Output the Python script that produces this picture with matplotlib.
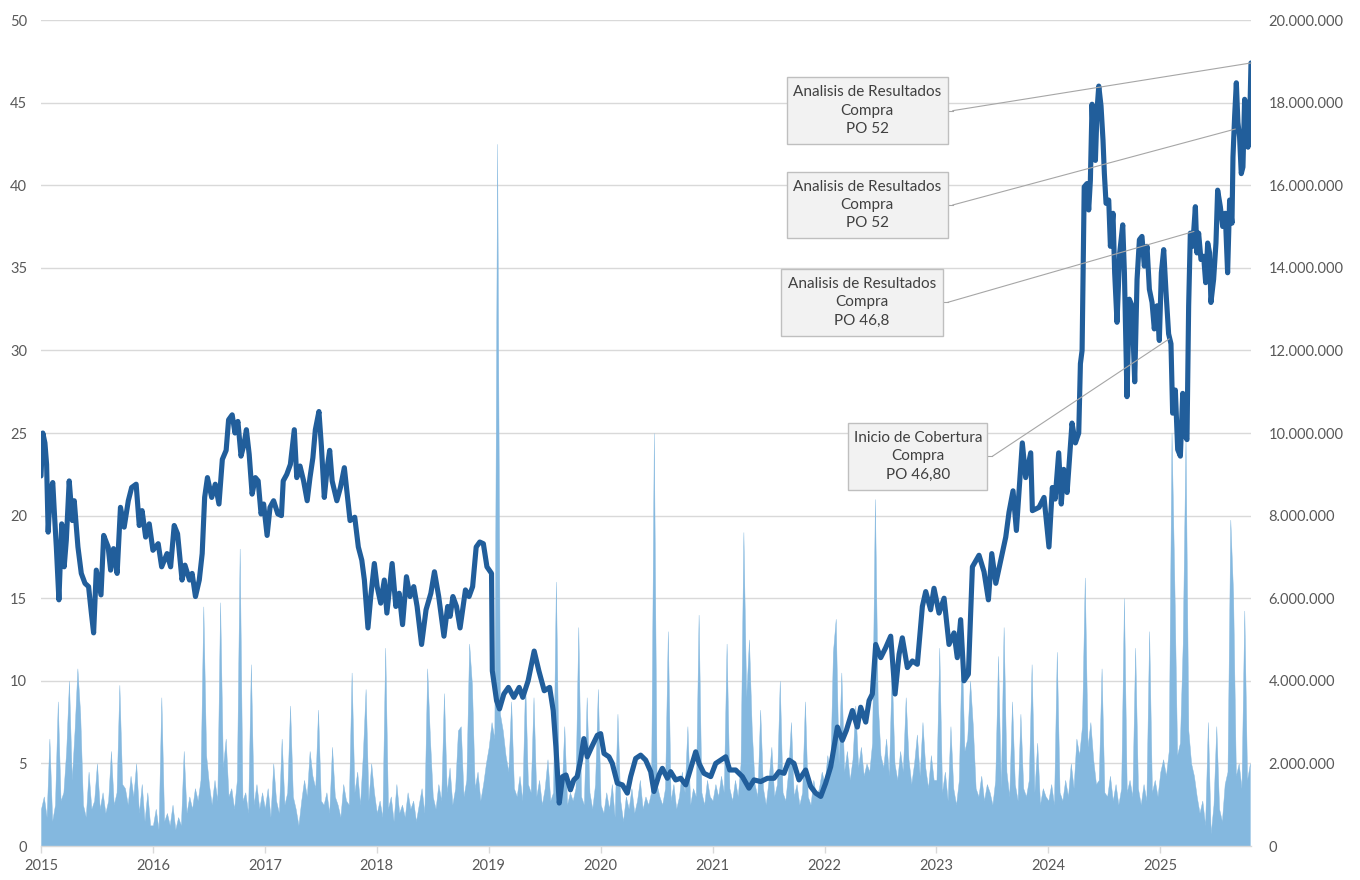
import numpy as np
import matplotlib
matplotlib.use("Agg")
import matplotlib.pyplot as plt
from matplotlib.patches import Rectangle, ConnectionPatch
from matplotlib.lines import Line2D
from matplotlib.transforms import IdentityTransform
from matplotlib.ticker import FuncFormatter

plt.rcParams['font.family'] = ['Lato', 'DejaVu Sans']

# ---------------- price (date as fractional year, price) ----------------
price_2015 = [(2015.000, 22.4), (2015.016, 25.0), (2015.035, 24.4), (2015.050, 23.1), (2015.064, 19.0),
              (2015.083, 21.5), (2015.105, 22.0), (2015.120, 20.1), (2015.137, 18.1), (2015.160, 14.9),
              (2015.185, 19.5), (2015.207, 16.9), (2015.226, 18.5), (2015.252, 22.1), (2015.280, 19.7),
              (2015.297, 20.9), (2015.330, 18.1), (2015.360, 16.5), (2015.393, 15.9), (2015.425, 15.7),
              (2015.450, 14.1), (2015.470, 12.9), (2015.494, 16.7), (2015.536, 15.2), (2015.560, 18.8),
              (2015.600, 18.1), (2015.622, 16.7), (2015.648, 18.0), (2015.680, 16.5), (2015.710, 20.5),
              (2015.743, 19.3), (2015.780, 20.9), (2015.810, 21.7), (2015.850, 21.9), (2015.878, 19.4),
              (2015.903, 20.3), (2015.935, 18.7), (2015.967, 19.5)]
price_2016 = [(2016.000, 17.9), (2016.047, 18.3), (2016.078, 16.9), (2016.126, 17.7), (2016.158, 16.9),
              (2016.190, 19.4), (2016.220, 18.9), (2016.260, 16.1), (2016.286, 17.0), (2016.327, 16.1),
              (2016.350, 16.5), (2016.380, 15.1), (2016.414, 16.1), (2016.440, 17.7), (2016.462, 21.1),
              (2016.487, 22.3), (2016.525, 21.1), (2016.557, 21.9), (2016.590, 20.7), (2016.620, 23.4),
              (2016.654, 23.95), (2016.676, 25.8), (2016.708, 26.1), (2016.733, 25.0), (2016.759, 25.7),
              (2016.787, 23.6), (2016.813, 24.3), (2016.835, 25.2), (2016.860, 23.7), (2016.886, 21.3),
              (2016.915, 22.3), (2016.940, 22.1), (2016.966, 20.1), (2016.989, 20.7)]
price_2017 = [(2017.020, 18.8), (2017.046, 20.5), (2017.078, 20.9), (2017.116, 20.1), (2017.148, 20.0),
              (2017.164, 22.1), (2017.196, 22.5), (2017.228, 23.1), (2017.263, 25.2), (2017.285, 22.3),
              (2017.314, 23.0), (2017.346, 22.1), (2017.378, 20.9), (2017.403, 22.3), (2017.429, 23.5),
              (2017.451, 25.2), (2017.483, 26.3), (2017.505, 24.2), (2017.531, 21.1), (2017.557, 22.9),
              (2017.579, 23.95), (2017.601, 22.1), (2017.643, 20.9), (2017.675, 21.7), (2017.710, 22.9),
              (2017.739, 21.1), (2017.761, 19.7), (2017.803, 19.9), (2017.835, 18.1), (2017.866, 17.3),
              (2017.889, 16.1), (2017.921, 13.2), (2017.946, 15.1), (2017.978, 17.1)]
price_2018 = [(2018.003, 15.7), (2018.035, 14.7), (2018.067, 16.1), (2018.090, 14.1), (2018.137, 17.1),
              (2018.170, 14.5), (2018.200, 15.3), (2018.230, 13.4), (2018.265, 16.3), (2018.297, 15.1),
              (2018.330, 15.7), (2018.360, 14.5), (2018.400, 12.2), (2018.440, 14.3), (2018.483, 15.3),
              (2018.515, 16.6), (2018.553, 15.1), (2018.600, 12.7), (2018.633, 14.5), (2018.655, 13.9),
              (2018.680, 15.1), (2018.712, 14.5), (2018.744, 13.2), (2018.792, 15.5), (2018.824, 15.1),
              (2018.856, 15.7), (2018.888, 18.1), (2018.920, 18.4), (2018.952, 18.3), (2018.984, 16.9)]
price_2019 = [(2019.025, 16.5), (2019.032, 10.6), (2019.070, 8.8), (2019.096, 8.3), (2019.135, 9.2),
              (2019.176, 9.6), (2019.224, 9.0), (2019.272, 9.6), (2019.304, 9.0), (2019.352, 10.0),
              (2019.406, 11.8), (2019.448, 10.6), (2019.496, 9.4), (2019.544, 9.6), (2019.576, 8.2),
              (2019.600, 6.0), (2019.630, 2.6), (2019.660, 4.2), (2019.690, 4.3), (2019.730, 3.4),
              (2019.760, 4.0), (2019.790, 4.2), (2019.820, 5.2), (2019.850, 6.5), (2019.880, 5.4),
              (2019.920, 6.0), (2019.970, 6.7)]
price_2020 = [(2020.000, 6.8), (2020.030, 5.6), (2020.074, 5.4), (2020.104, 5.0), (2020.149, 3.8),
              (2020.194, 3.7), (2020.238, 3.2), (2020.268, 4.2), (2020.313, 5.3), (2020.357, 5.5),
              (2020.402, 5.2), (2020.447, 4.5), (2020.476, 3.3), (2020.521, 4.3), (2020.551, 4.7),
              (2020.596, 4.1), (2020.625, 4.5), (2020.670, 4.0), (2020.715, 4.1), (2020.760, 3.7),
              (2020.804, 4.7), (2020.849, 5.7), (2020.879, 5.0), (2020.923, 4.4), (2020.983, 4.2)]
price_2021 = [(2021.028, 5.0), (2021.072, 5.2), (2021.117, 5.4), (2021.153, 4.6), (2021.206, 4.6),
              (2021.266, 4.2), (2021.325, 3.5), (2021.370, 4.0), (2021.430, 3.9), (2021.489, 4.1),
              (2021.549, 4.1), (2021.593, 4.5), (2021.638, 4.4), (2021.683, 5.2), (2021.727, 5.0),
              (2021.772, 4.0), (2021.831, 4.6), (2021.876, 3.6), (2021.921, 3.2), (2021.966, 3.0)]
price_2022 = [(2022.010, 3.8), (2022.055, 4.8), (2022.085, 6.0), (2022.115, 7.2), (2022.159, 6.4),
              (2022.195, 7.0), (2022.249, 8.2), (2022.293, 7.2), (2022.323, 8.4), (2022.368, 7.5),
              (2022.398, 8.8), (2022.427, 9.2), (2022.457, 12.2), (2022.502, 11.4), (2022.546, 12.0),
              (2022.591, 12.7), (2022.630, 9.2), (2022.666, 11.6), (2022.695, 12.6), (2022.740, 10.8),
              (2022.785, 11.2), (2022.829, 11.0), (2022.874, 14.5), (2022.904, 15.4), (2022.948, 14.3),
              (2022.978, 15.6)]
price_2023 = [(2023.023, 14.1), (2023.068, 15.0), (2023.112, 12.2), (2023.157, 12.9), (2023.186, 11.4),
              (2023.216, 13.7), (2023.246, 10.0), (2023.285, 10.4), (2023.321, 16.9), (2023.380, 17.6),
              (2023.425, 16.6), (2023.464, 14.9), (2023.494, 17.7), (2023.530, 15.9), (2023.574, 17.3),
              (2023.619, 18.7), (2023.648, 20.2), (2023.684, 21.5), (2023.714, 19.1), (2023.767, 24.4),
              (2023.797, 22.3), (2023.842, 23.8), (2023.857, 20.3), (2023.916, 20.5), (2023.961, 21.1)]
price_2024 = [(2024.005, 18.1), (2024.035, 21.7), (2024.060, 21.0), (2024.092, 23.8), (2024.115, 20.7),
              (2024.137, 22.8), (2024.167, 21.4), (2024.211, 25.6), (2024.241, 24.4), (2024.271, 25.0),
              (2024.286, 29.2), (2024.301, 30.0), (2024.320, 39.9), (2024.345, 40.1), (2024.360, 38.5),
              (2024.375, 40.3), (2024.390, 44.9), (2024.405, 42.1), (2024.420, 41.5), (2024.435, 44.6),
              (2024.450, 46.0), (2024.470, 44.8), (2024.488, 42.7), (2024.500, 40.7), (2024.515, 38.9),
              (2024.539, 39.1), (2024.554, 36.3), (2024.577, 38.3), (2024.592, 34.7), (2024.613, 31.7),
              (2024.637, 35.9), (2024.664, 37.6), (2024.679, 34.7), (2024.702, 27.2), (2024.723, 33.1),
              (2024.747, 32.7), (2024.771, 28.1), (2024.792, 34.3), (2024.813, 36.7), (2024.836, 36.9),
              (2024.857, 35.1), (2024.881, 36.3), (2024.902, 33.7), (2024.926, 32.9), (2024.946, 31.3),
              (2024.970, 32.7), (2024.991, 30.6)]
price_2025 = [(2025.009, 34.7), (2025.030, 36.1), (2025.051, 33.5), (2025.074, 31.0), (2025.095, 30.4),
              (2025.110, 26.2), (2025.134, 27.6), (2025.155, 24.0), (2025.179, 23.6), (2025.200, 27.4),
              (2025.223, 24.8), (2025.238, 24.6), (2025.253, 32.7), (2025.268, 37.1), (2025.289, 36.3),
              (2025.313, 38.7), (2025.327, 35.9), (2025.342, 37.1), (2025.363, 35.5), (2025.387, 35.7),
              (2025.405, 34.1), (2025.423, 36.5), (2025.440, 35.9), (2025.452, 32.9), (2025.476, 34.3),
              (2025.497, 36.5), (2025.512, 39.7), (2025.536, 38.7), (2025.557, 37.5), (2025.580, 38.3),
              (2025.601, 34.7), (2025.619, 39.1), (2025.640, 37.7), (2025.649, 41.7), (2025.664, 44.2),
              (2025.679, 46.2), (2025.693, 43.8), (2025.708, 42.9), (2025.723, 40.7), (2025.738, 41.1),
              (2025.753, 45.2), (2025.768, 44.8), (2025.783, 42.3), (2025.798, 43.8), (2025.810, 47.4)]

# ---------------- volume (millions, ~40 readings per year) ----------------
vol_years = [2015, 2016, 2017, 2018, 2019, 2020, 2021, 2022, 2023, 2024, 2025]
vol_2015 = [0.9, 1.2, 0.7, 2.6, 0.6, 1.0, 3.5, 1.1, 1.3, 2.3, 4.0, 1.6, 2.8, 4.3, 3.2, 1.0, 0.7, 1.8, 0.9, 1.1,
            2.0, 0.9, 1.3, 0.8, 1.1, 2.3, 1.0, 1.3, 3.9, 1.5, 1.4, 1.0, 1.7, 1.2, 2.0, 0.8, 1.5, 0.6, 1.3, 0.5]
vol_2016 = [0.5, 0.9, 0.4, 3.6, 0.6, 0.8, 0.5, 1.0, 0.4, 0.7, 0.5, 2.3, 0.8, 1.2, 0.9, 1.4, 1.1, 1.6, 5.8, 2.2,
            1.5, 1.0, 1.6, 1.1, 5.9, 1.9, 2.6, 1.2, 1.4, 0.9, 1.6, 7.2, 1.1, 1.3, 0.8, 4.4, 1.0, 1.5, 0.9, 1.3]
vol_2017 = [0.9, 1.4, 0.7, 2.0, 1.1, 0.8, 2.6, 1.0, 1.3, 3.4, 1.2, 0.9, 0.5, 1.1, 1.6, 1.2, 2.3, 1.7, 1.4, 3.3,
            1.1, 1.0, 1.3, 0.8, 2.4, 1.2, 1.0, 0.7, 1.5, 1.1, 1.0, 4.2, 1.3, 1.8, 1.0, 2.2, 3.8, 1.1, 2.0, 1.3]
vol_2018 = [0.8, 1.1, 0.7, 4.8, 0.9, 1.2, 0.6, 1.5, 0.8, 1.0, 0.7, 1.3, 0.9, 1.1, 0.6, 1.0, 1.4, 0.8, 4.3, 2.6,
            1.2, 0.9, 1.5, 1.1, 3.7, 1.3, 1.9, 1.0, 1.4, 2.8, 2.9, 1.2, 1.6, 4.9, 3.9, 1.4, 1.8, 1.1, 1.5, 2.0]
vol_2019 = [2.4, 3.0, 2.6, 17.0, 3.2, 2.8, 2.2, 1.8, 3.5, 1.4, 1.2, 1.7, 1.1, 4.0, 1.5, 1.3, 3.6, 1.2, 1.6, 1.0,
            1.4, 2.1, 1.1, 1.3, 6.4, 1.6, 1.2, 2.9, 1.0, 1.3, 1.1, 1.4, 5.3, 1.2, 1.0, 3.6, 1.3, 0.9, 1.5, 3.8]
vol_2020 = [1.0, 0.8, 1.3, 0.9, 1.5, 0.7, 3.2, 1.1, 0.6, 1.2, 0.9, 1.4, 0.8, 1.1, 1.6, 0.9, 1.2, 1.0, 1.3, 10.0,
            1.5, 1.2, 1.0, 1.4, 5.2, 1.1, 1.5, 0.9, 1.2, 1.8, 1.3, 2.9, 1.0, 1.4, 1.2, 5.6, 1.3, 1.0, 1.6, 1.2]
vol_2021 = [1.1, 1.5, 1.2, 1.7, 1.3, 4.9, 1.4, 1.1, 1.6, 1.2, 2.0, 7.6, 3.6, 5.0, 2.8, 1.5, 1.2, 3.3, 1.4, 1.0,
            1.6, 2.4, 1.2, 1.5, 4.0, 1.3, 1.1, 1.8, 3.0, 1.2, 1.5, 1.0, 1.3, 3.5, 1.2, 1.0, 1.6, 1.2, 1.4, 1.8]
vol_2022 = [1.5, 2.2, 1.7, 4.7, 5.5, 2.0, 4.2, 1.8, 2.3, 1.6, 2.1, 3.4, 1.9, 2.4, 1.7, 2.0, 1.8, 2.5, 8.4, 3.5,
            2.2, 1.9, 2.6, 1.7, 4.3, 2.0, 1.6, 2.3, 1.8, 3.6, 2.1, 1.5, 2.0, 2.7, 1.7, 3.0, 1.9, 1.4, 2.2, 1.6]
vol_2023 = [1.6, 4.8, 1.3, 1.8, 1.1, 2.9, 1.4, 1.0, 1.6, 4.8, 2.3, 2.6, 4.0, 2.9, 1.4, 1.2, 1.7, 1.1, 1.5, 1.3,
            1.0, 1.6, 4.6, 1.4, 5.3, 1.8, 1.2, 3.5, 1.5, 1.1, 3.2, 1.4, 1.2, 1.6, 4.4, 1.3, 2.5, 1.0, 1.4, 1.2]
vol_2024 = [1.1, 1.5, 1.0, 4.7, 1.3, 1.1, 1.6, 1.2, 2.0, 1.4, 2.6, 2.2, 2.9, 6.5, 2.4, 3.0, 2.1, 1.5, 1.6, 4.3,
            1.3, 1.2, 1.7, 1.1, 1.5, 1.0, 1.4, 6.0, 1.3, 1.6, 1.2, 4.8, 1.4, 1.0, 1.5, 1.1, 5.2, 1.3, 1.6, 1.2]
vol_2025 = [1.8, 2.1, 1.7, 2.3, 10.0, 6.4, 2.2, 2.5, 4.9, 9.9, 2.8, 2.0, 1.7, 1.2, 0.8, 1.1, 0.5, 3.0, 0.3, 1.0,
            2.9, 0.9, 0.6, 1.5, 1.8, 7.9, 6.1, 1.7, 2.0, 1.4, 5.7, 1.6, 2.0]
vol_lists = [vol_2015, vol_2016, vol_2017, vol_2018, vol_2019, vol_2020,
             vol_2021, vol_2022, vol_2023, vol_2024, vol_2025]
VOL_PER_YEAR = 40

# ---------------- annotations ----------------
ann_texts = ["Analisis de Resultados\nCompra\nPO 52",
             "Analisis de Resultados\nCompra\nPO 52",
             "Analisis de Resultados\nCompra\nPO 46,8",
             "Inicio de Cobertura\nCompra\nPO 46,80"]
ann_dates = [2025.81, 2025.67, 2025.30, 2025.08]
ann_prices = [47.4, 43.4, 37.2, 30.7]

year_ticks = list(range(2015, 2026))

# ---------------- build ----------------
price_all = price_2015 + price_2016 + price_2017 + price_2018 + price_2019 + price_2020 + \
    price_2021 + price_2022 + price_2023 + price_2024 + price_2025
price_t = np.array([p[0] for p in price_all])
price_v = np.array([p[1] for p in price_all])

vol_t = np.concatenate([yr + np.arange(len(v)) / VOL_PER_YEAR for yr, v in zip(vol_years, vol_lists)])
vol_v = np.concatenate([np.array(v) for v in vol_lists]) * 1e6

W, H = 1360, 880
LINE = '#215e9b'
AREA = '#84b8df'
GRID = '#d9d9d9'
TXT = '#595959'

fig = plt.figure(figsize=(W / 100, H / 100), dpi=100)
fig.patch.set_facecolor('white')
ax = fig.add_axes([41 / W, 34 / H, 1210 / W, 826 / H])
ax2 = ax.twinx()

ax.fill_between(vol_t, 0, vol_v, color=AREA, linewidth=0.3, edgecolor=AREA, zorder=2)
ax2.plot(price_t, price_v, color=LINE, lw=3.7, solid_joinstyle='round', solid_capstyle='round', zorder=3)

xmax = price_t[-1]
ax.set_xlim(2015, xmax)
ax.set_ylim(0, 20e6)
ax2.set_ylim(0, 50)

ax.yaxis.tick_right()
ax2.yaxis.tick_left()
ax.set_yticks(np.arange(0, 20e6 + 1, 2e6))
ax.yaxis.set_major_formatter(FuncFormatter(lambda v, p: f"{int(round(v)):,}".replace(',', '.')))
ax2.set_yticks(np.arange(0, 51, 5))
ax.set_xticks(year_ticks)
ax.set_xticklabels([str(y) for y in year_ticks])

ax.grid(axis='y', color=GRID, lw=1)
ax.set_axisbelow(True)

for a in (ax, ax2):
    for s in ('top', 'left', 'right'):
        a.spines[s].set_visible(False)
ax2.spines['bottom'].set_visible(False)
ax.spines['bottom'].set_color(GRID)
ax.spines['bottom'].set_linewidth(1)
ax.spines['bottom'].set_zorder(4)

ax.tick_params(axis='y', length=0, pad=12.5, labelsize=10.5, labelcolor=TXT)
ax2.tick_params(axis='y', length=0, pad=10, labelsize=10.5, labelcolor=TXT)
ax.tick_params(axis='x', length=5, width=1, color=GRID, pad=4, labelsize=10.5, labelcolor=TXT)

# annotation boxes: (left, top, right, bottom) in pixels from top-left
boxes = [(786.7, 77.3, 947.7, 144.0),
         (786.7, 171.7, 947.7, 238.3),
         (781.0, 269.0, 942.7, 335.7),
         (848.3, 422.7, 987.3, 490.0)]
ident = IdentityTransform()
for (l, t, r, b), txt, d, pv in zip(boxes, ann_texts, ann_dates, ann_prices):
    y0 = H - b
    rect = Rectangle((l, y0), r - l, b - t, transform=ident, facecolor='#f2f2f2',
                     edgecolor='#bfbfbf', linewidth=1, zorder=6)
    fig.add_artist(rect)
    cx, cy = (l + r) / 2, H - (t + b) / 2
    fig.text(cx, cy, txt, transform=ident, ha='center', va='center', fontsize=11,
             color='#404040', linespacing=1.4, zorder=7)
    stub = Line2D([r, r + 5], [cy, cy], transform=ident, color='#a6a6a6', lw=0.8, zorder=5)
    fig.add_artist(stub)
    con = ConnectionPatch(xyA=(r + 5, cy), coordsA='figure pixels', xyB=(d, pv), coordsB='data',
                          axesB=ax2, color='#a6a6a6', lw=0.8, zorder=5)
    fig.add_artist(con)

fig.savefig('out.png', dpi=100)
